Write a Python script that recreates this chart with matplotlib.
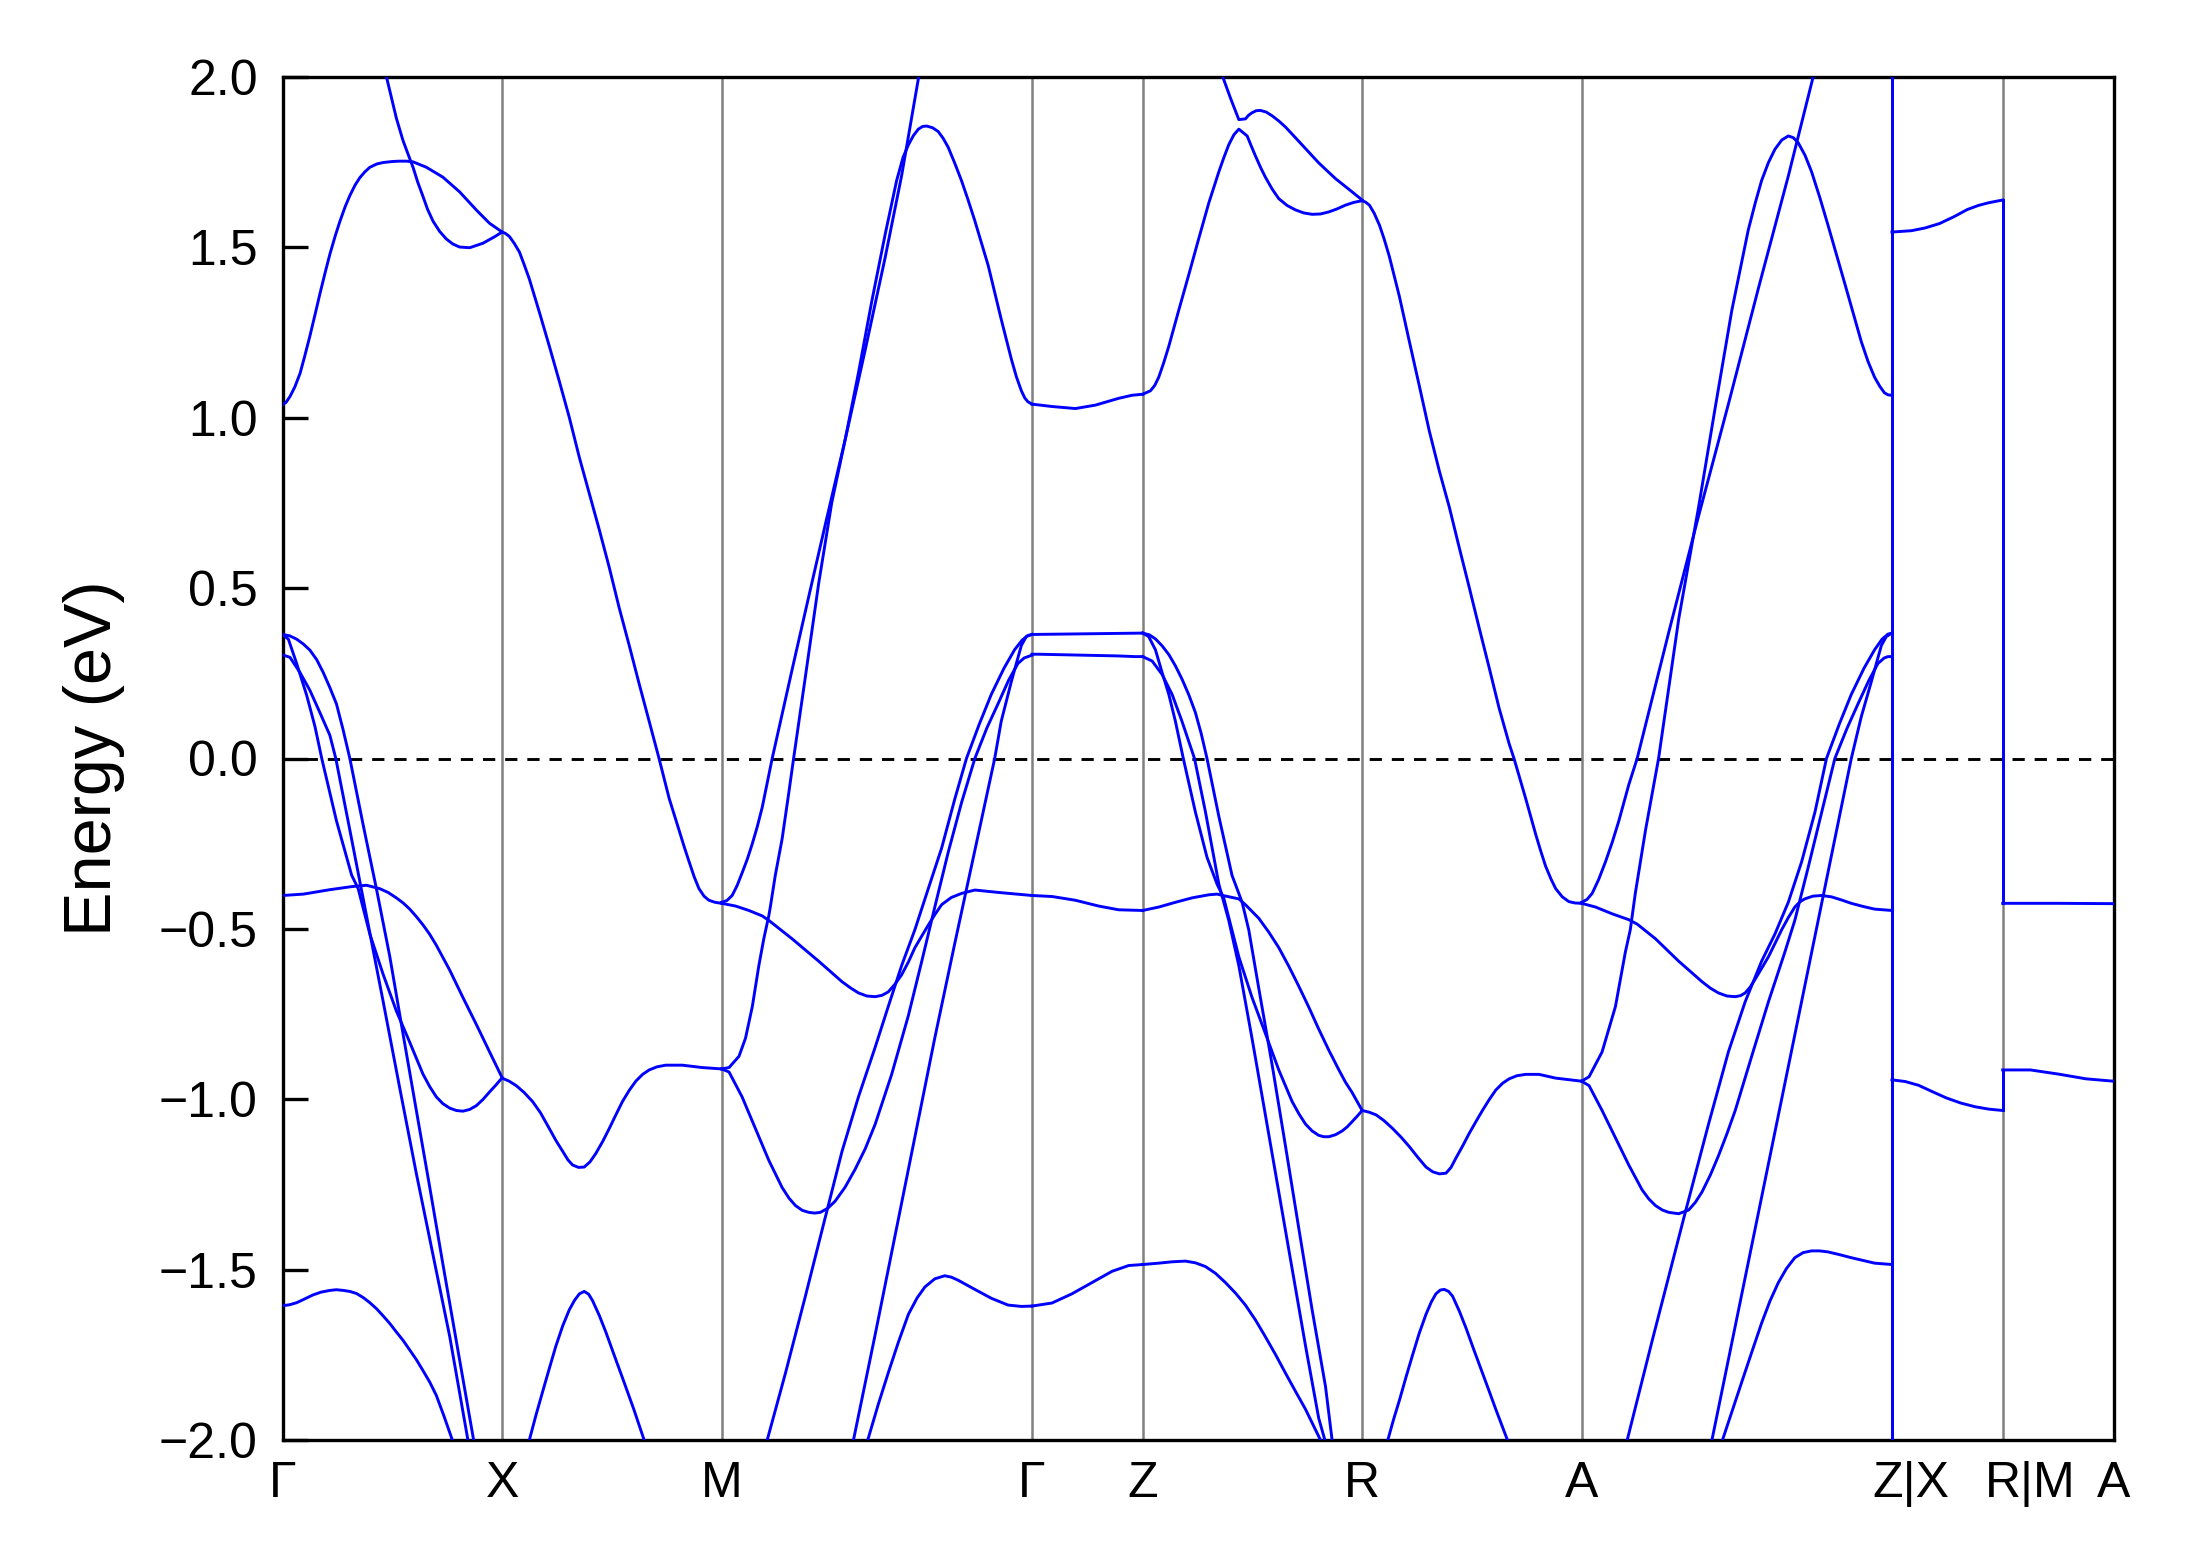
import matplotlib
matplotlib.use("Agg")
import matplotlib.pyplot as plt
import matplotlib.transforms as mtrans
import numpy as np

plt.rcParams['font.family'] = ['Liberation Sans', 'DejaVu Sans']

# ---------------- path / labels ----------------
tick_labels = ["Γ", "X", "M", "Γ", "Z", "R", "A", "Z|X", "R|M", "A"]
# segment lengths (units of 2π/a): Γ-X, X-M, M-Γ, Γ-Z, Z-R, R-A, A-Z, X-R, M-A
seg_lengths = [0.5, 0.5, 0.7071, 0.2524, 0.5, 0.5, 0.7071, 0.2524, 0.2524]

# ---------------- band data: (fraction along segment, energy eV) ----------------
# segment 0 : Γ-X
gx_c1 = [(0.000,1.039),(0.015,1.045),(0.033,1.062),(0.055,1.090),(0.079,1.130),(0.100,1.180),(0.124,1.240),
         (0.150,1.310),(0.170,1.365),(0.195,1.430),(0.215,1.480),(0.240,1.535),(0.261,1.577),(0.285,1.620),
         (0.306,1.652),(0.330,1.683),(0.352,1.705),(0.375,1.722),(0.397,1.735),(0.430,1.745),(0.458,1.749),
         (0.500,1.752),(0.530,1.753),(0.564,1.753),(0.594,1.751),
         (0.655,1.735),(0.730,1.706),(0.806,1.663),(0.882,1.610),(0.942,1.571),(1.000,1.545)]
gx_c2 = [(0.473,2.000),(0.518,1.879),(0.548,1.814),(0.571,1.774),(0.594,1.735),(0.615,1.692),(0.639,1.650),
         (0.660,1.612),(0.685,1.577),(0.715,1.547),(0.745,1.525),(0.775,1.510),(0.806,1.501),(0.852,1.499),
         (0.912,1.512),(0.965,1.531),(1.000,1.545)]
gx_v1 = [(0.000,0.364),(0.026,0.350),(0.064,0.278),(0.109,0.186),(0.147,0.094),(0.178,0.000),(0.245,-0.183),
         (0.314,-0.342),(0.344,-0.382),(0.397,-0.515),(0.458,-0.634),(0.518,-0.741),(0.579,-0.833),(0.639,-0.926),
         (0.670,-0.963),(0.700,-0.993),(0.730,-1.013),(0.761,-1.026),(0.791,-1.033),(0.821,-1.035),(0.852,-1.030),
         (0.882,-1.019),(0.912,-1.001),(0.942,-0.979),(0.972,-0.958),(1.000,-0.937)]
gx_v2 = [(0.000,0.304),(0.033,0.297),(0.079,0.252),(0.124,0.200),(0.170,0.134),(0.215,0.068),(0.242,0.000),
         (0.306,-0.210),(0.382,-0.462),(0.458,-0.714),(0.533,-0.966),(0.609,-1.218),(0.685,-1.457),(0.761,-1.696),
         (0.844,-2.000)]
gx_v3 = [(0.000,0.364),(0.032,0.360),(0.064,0.350),(0.094,0.336),(0.124,0.318),(0.155,0.290),(0.185,0.252),
         (0.215,0.208),(0.245,0.160),(0.275,0.085),(0.306,0.000),(0.367,-0.196),
         (0.427,-0.382),(0.488,-0.581),(0.548,-0.807),(0.609,-1.033),(0.670,-1.258),(0.730,-1.484),(0.791,-1.709),
         (0.870,-2.000)]
gx_v4 = [(0.000,-0.402),(0.094,-0.398),(0.215,-0.385),(0.314,-0.376),(0.382,-0.372),(0.442,-0.382),(0.480,-0.393),
         (0.518,-0.409),(0.549,-0.424),(0.579,-0.442),(0.609,-0.464),(0.639,-0.488),(0.670,-0.516),(0.700,-0.548),
         (0.761,-0.621),(0.821,-0.701),(0.882,-0.780),(0.942,-0.860),(1.000,-0.937)]
gx_v5 = [(0.000,-1.606),(0.032,-1.603),(0.064,-1.597),(0.100,-1.586),(0.139,-1.574),(0.175,-1.566),(0.215,-1.561),
         (0.245,-1.559),(0.276,-1.561),(0.306,-1.564),(0.336,-1.570),(0.367,-1.582),(0.397,-1.597),(0.428,-1.615),
         (0.458,-1.636),(0.488,-1.658),(0.518,-1.683),(0.549,-1.708),(0.579,-1.736),(0.609,-1.764),(0.639,-1.796),
         (0.670,-1.830),(0.700,-1.869),(0.735,-1.930),(0.773,-2.000)]

# segment 1 : X-M
xm_c1 = [(0.000,1.545),(0.015,1.541),(0.033,1.532),(0.055,1.512),(0.079,1.486),(0.100,1.450),(0.124,1.407),
         (0.170,1.309),(0.215,1.210),(0.261,1.106),
         (0.306,1.001),(0.352,0.883),(0.397,0.778),(0.442,0.673),(0.488,0.561),(0.533,0.443),(0.579,0.332),
         (0.624,0.220),(0.670,0.109),(0.715,0.000),(0.761,-0.117),(0.806,-0.210),(0.830,-0.260),(0.852,-0.303),
         (0.875,-0.347),(0.897,-0.382),(0.920,-0.404),(0.942,-0.416),(0.970,-0.422),(1.000,-0.425)]
xm_v1 = [(0.000,-0.938),(0.032,-0.947),(0.064,-0.960),(0.100,-0.980),(0.139,-1.007),(0.175,-1.040),(0.215,-1.086),
         (0.245,-1.121),(0.276,-1.153),(0.300,-1.178),(0.321,-1.193),(0.348,-1.200),(0.374,-1.199),(0.400,-1.184),
         (0.427,-1.159),(0.458,-1.124),(0.488,-1.086),(0.518,-1.046),(0.548,-1.007),(0.579,-0.974),(0.609,-0.947),
         (0.640,-0.927),(0.670,-0.914),(0.705,-0.905),(0.745,-0.900),(0.821,-0.900),
         (0.912,-0.907),(1.000,-0.911)]
xm_v2 = [(0.124,-2.000),(0.155,-1.925),(0.185,-1.857),(0.215,-1.790),(0.245,-1.724),(0.276,-1.665),(0.306,-1.618),
         (0.330,-1.590),(0.352,-1.571),(0.374,-1.564),(0.394,-1.572),(0.412,-1.591),(0.443,-1.635),
         (0.473,-1.684),(0.510,-1.750),(0.548,-1.817),(0.600,-1.910),(0.647,-2.000)]

# segment 2 : M-Γ
mg_c1 = [(0.000,-0.422),(0.017,-0.417),(0.034,-0.402),(0.050,-0.373),(0.066,-0.336),(0.083,-0.295),(0.099,-0.250),
         (0.115,-0.200),(0.131,-0.143),(0.163,0.000),(0.227,0.260),
         (0.281,0.476),(0.334,0.686),(0.398,0.935),(0.463,1.200),(0.527,1.470),(0.580,1.710),(0.635,2.000)]
mg_c2 = [(0.000,-0.911),(0.024,-0.907),(0.056,-0.874),(0.077,-0.821),(0.099,-0.728),(0.120,-0.608),(0.136,-0.529),
         (0.152,-0.462),(0.157,-0.436),(0.173,-0.343),(0.195,-0.236),(0.216,-0.104),(0.232,0.000),(0.270,0.240),
         (0.313,0.515),(0.355,0.751),(0.398,0.935),(0.441,1.132),(0.484,1.342),(0.527,1.538),(0.564,1.696),
         (0.585,1.765),(0.602,1.801),(0.618,1.828),(0.634,1.847),(0.648,1.855),(0.661,1.856),(0.680,1.851),
         (0.698,1.840),(0.714,1.820),(0.730,1.794),(0.750,1.750),(0.773,1.696),(0.794,1.640),(0.816,1.578),
         (0.859,1.447),(0.901,1.289),(0.918,1.228),(0.934,1.171),(0.950,1.120),(0.966,1.079),(0.977,1.058),
         (0.987,1.047),(1.000,1.040)]
mg_v1 = [(0.000,-0.425),(0.045,-0.433),(0.088,-0.446),(0.131,-0.462),(0.152,-0.475),(0.227,-0.529),(0.313,-0.595),
         (0.388,-0.655),(0.415,-0.673),(0.441,-0.688),(0.468,-0.697),(0.495,-0.699),(0.517,-0.695),(0.537,-0.685),
         (0.558,-0.663),(0.580,-0.635),(0.602,-0.597),(0.623,-0.555),(0.645,-0.521),(0.666,-0.489),(0.688,-0.457),
         (0.709,-0.429),(0.740,-0.408),(0.773,-0.396),(0.816,-0.386),(0.891,-0.393),(1.000,-0.402)]
mg_v2 = [(0.000,-0.911),(0.024,-0.920),(0.066,-0.993),(0.109,-1.086),(0.152,-1.179),(0.195,-1.259),(0.217,-1.290),
         (0.238,-1.312),(0.260,-1.326),(0.281,-1.332),(0.300,-1.334),(0.318,-1.332),(0.342,-1.320),(0.366,-1.299),
         (0.398,-1.258),(0.430,-1.206),(0.463,-1.145),(0.495,-1.073),(0.548,-0.927),(0.602,-0.754),
         (0.645,-0.595),(0.687,-0.436),(0.730,-0.276),(0.773,-0.130),(0.816,0.000),(0.855,0.090),(0.891,0.161),
         (0.925,0.230),(0.955,0.279),(0.975,0.295),(0.987,0.299),(1.000,0.303)]
mg_v3 = [(0.147,-2.000),(0.206,-1.803),(0.270,-1.578),(0.329,-1.365),(0.388,-1.153),(0.441,-0.993),(0.495,-0.847),
         (0.537,-0.728),(0.580,-0.608),(0.623,-0.502),(0.666,-0.382),(0.709,-0.263),(0.752,-0.117),(0.789,0.000),
         (0.830,0.100),(0.869,0.188),(0.910,0.265),(0.944,0.319),(0.968,0.347),(0.987,0.361),(1.000,0.364)]
mg_v4 = [(0.425,-2.000),(0.495,-1.690),(0.559,-1.400),(0.623,-1.110),(0.687,-0.820),(0.752,-0.540),(0.816,-0.270),
         (0.880,0.000),(0.901,0.109),(0.934,0.227),(0.966,0.332),(0.982,0.358),(1.000,0.364)]
mg_v5 = [(0.471,-2.000),(0.505,-1.895),(0.537,-1.803),(0.570,-1.712),(0.602,-1.631),(0.630,-1.583),(0.655,-1.551),
         (0.687,-1.527),(0.719,-1.518),(0.740,-1.522),(0.762,-1.531),(0.790,-1.545),(0.816,-1.558),
         (0.869,-1.584),(0.923,-1.604),(0.966,-1.608),(1.000,-1.607)]

# segment 3 : Γ-Z
gz_c1 = [(0.000,1.040),(0.181,1.033),(0.392,1.027),(0.572,1.037),(0.783,1.057),(0.904,1.066),(1.000,1.069)]
gz_v1 = [(0.000,0.364),(0.500,0.366),(1.000,0.368)]
gz_v2 = [(0.000,0.306),(0.060,0.306),(0.780,0.301),(0.930,0.299),(1.000,0.299)]
gz_v3 = [(0.000,-0.402),(0.181,-0.405),(0.392,-0.416),(0.602,-0.433),(0.783,-0.444),(1.000,-0.446)]
gz_v4 = [(0.000,-1.607),(0.181,-1.598),(0.361,-1.571),(0.542,-1.538),(0.723,-1.505),(0.873,-1.488),(1.000,-1.485)]

# segment 4 : Z-R
zr_c1 = [(0.000,1.069),(0.035,1.079),(0.055,1.095),(0.073,1.119),(0.095,1.160),(0.119,1.210),(0.164,1.315),
         (0.210,1.420),(0.255,1.525),(0.301,1.630),(0.347,1.722),(0.370,1.764),(0.392,1.801),(0.415,1.830),
         (0.438,1.847),(0.476,1.827),(0.495,1.797),(0.514,1.768),(0.536,1.736),(0.559,1.706),(0.590,1.671),
         (0.620,1.643),(0.658,1.623),(0.696,1.610),(0.734,1.601),(0.772,1.597),(0.810,1.598),(0.848,1.604),
         (0.886,1.613),(0.924,1.624),(0.962,1.632),(1.000,1.637)]
zr_c2 = [(0.365,2.000),(0.400,1.938),(0.438,1.875),(0.468,1.877),(0.483,1.888),(0.498,1.895),(0.517,1.901),
         (0.536,1.902),(0.563,1.897),(0.590,1.886),(0.620,1.871),(0.651,1.853),(0.726,1.801),(0.802,1.748),
         (0.878,1.702),(0.954,1.663),(1.000,1.639)]
zr_v1 = [(0.000,0.368),(0.027,0.358),(0.058,0.319),(0.088,0.253),(0.119,0.188),(0.149,0.109),(0.185,0.000),
         (0.240,-0.157),(0.293,-0.290),(0.339,-0.369),(0.369,-0.409),(0.438,-0.582),(0.498,-0.701),(0.559,-0.807),
         (0.620,-0.914),(0.681,-1.007),(0.712,-1.043),(0.742,-1.073),(0.772,-1.093),(0.802,-1.106),(0.825,-1.110),
         (0.848,-1.110),(0.879,-1.104),(0.909,-1.093),(0.932,-1.081),(0.954,-1.066),(0.977,-1.050),(1.000,-1.033)]
zr_v2 = [(0.000,0.299),(0.043,0.286),(0.088,0.247),(0.134,0.188),(0.179,0.109),(0.236,0.000),(0.286,-0.157),
         (0.347,-0.369),(0.392,-0.475),(0.438,-0.608),(0.498,-0.821),(0.559,-1.046),(0.620,-1.272),(0.681,-1.498),
         (0.742,-1.724),(0.802,-1.936),(0.830,-2.000)]
zr_v3 = [(0.000,0.368),(0.030,0.363),(0.058,0.351),(0.088,0.331),(0.119,0.305),(0.149,0.272),(0.179,0.233),
         (0.210,0.187),(0.240,0.135),(0.267,0.072),(0.293,0.000),(0.347,-0.170),
         (0.407,-0.343),(0.453,-0.422),(0.483,-0.502),(0.529,-0.675),(0.590,-0.900),(0.651,-1.139),(0.711,-1.378),
         (0.772,-1.618),(0.833,-1.843),(0.863,-2.000)]
zr_v4 = [(0.000,-0.446),(0.073,-0.436),(0.149,-0.422),(0.225,-0.409),(0.301,-0.400),(0.339,-0.398),(0.365,-0.402),
         (0.438,-0.412),(0.468,-0.429),(0.529,-0.469),(0.575,-0.510),(0.620,-0.555),(0.666,-0.610),(0.711,-0.668),
         (0.757,-0.730),(0.802,-0.794),(0.848,-0.856),(0.894,-0.914),(0.924,-0.950),(0.954,-0.980),(1.000,-1.033)]
zr_v5 = [(0.000,-1.485),(0.073,-1.481),(0.135,-1.477),(0.195,-1.475),(0.240,-1.480),(0.286,-1.491),(0.332,-1.511),
         (0.377,-1.538),(0.423,-1.569),(0.468,-1.604),(0.514,-1.648),(0.559,-1.697),(0.605,-1.749),
         (0.650,-1.803),(0.696,-1.857),(0.742,-1.910),(0.810,-2.000)]

# segment 5 : R-A
ra_c1 = [(0.000,1.637),(0.015,1.633),(0.033,1.624),(0.055,1.600),(0.079,1.565),(0.100,1.525),(0.124,1.473),
         (0.170,1.355),(0.215,1.224),(0.261,1.092),
         (0.306,0.961),(0.352,0.843),(0.397,0.738),(0.442,0.620),(0.488,0.502),(0.533,0.384),(0.579,0.266),
         (0.624,0.148),(0.670,0.043),(0.692,0.000),(0.745,-0.117),(0.791,-0.223),(0.814,-0.272),(0.836,-0.316),
         (0.860,-0.353),(0.882,-0.382),(0.912,-0.406),(0.942,-0.420),(0.970,-0.424),(1.000,-0.425)]
ra_v1 = [(0.000,-1.033),(0.032,-1.038),(0.064,-1.046),(0.100,-1.063),(0.139,-1.086),(0.177,-1.111),(0.215,-1.139),
         (0.253,-1.170),(0.291,-1.199),(0.322,-1.213),(0.352,-1.219),(0.382,-1.217),(0.405,-1.200),
         (0.427,-1.173),(0.458,-1.137),(0.488,-1.100),(0.518,-1.066),(0.548,-1.033),(0.579,-1.001),(0.609,-0.973),
         (0.640,-0.953),(0.670,-0.940),(0.705,-0.931),(0.745,-0.927),(0.806,-0.927),
         (0.882,-0.938),(1.000,-0.947)]
ra_v2 = [(0.117,-2.000),(0.143,-1.940),(0.170,-1.883),(0.200,-1.815),(0.230,-1.750),(0.260,-1.687),(0.291,-1.631),
         (0.315,-1.595),(0.336,-1.571),(0.356,-1.560),(0.374,-1.558),(0.394,-1.564),(0.412,-1.578),(0.443,-1.622),
         (0.473,-1.671),(0.510,-1.737),(0.548,-1.803),(0.579,-1.857),(0.609,-1.910),(0.662,-2.000)]

# segment 6 : A-Z
az_c1 = [(0.000,-0.422),(0.017,-0.414),(0.034,-0.396),(0.055,-0.355),(0.077,-0.303),(0.099,-0.245),(0.120,-0.183),
         (0.152,-0.077),(0.179,0.000),(0.281,0.371),
         (0.377,0.712),(0.473,1.040),(0.570,1.381),(0.666,1.709),(0.746,2.000)]
az_c2 = [(0.000,-0.947),(0.024,-0.934),(0.066,-0.861),(0.109,-0.728),(0.141,-0.568),(0.157,-0.502),(0.173,-0.396),
         (0.206,-0.210),(0.248,0.000),(0.313,0.410),(0.377,0.738),(0.430,1.027),(0.484,1.315),(0.537,1.551),
         (0.560,1.632),(0.580,1.696),(0.602,1.749),(0.623,1.788),(0.645,1.815),(0.666,1.827),(0.682,1.822),
         (0.698,1.807),(0.720,1.770),(0.741,1.722),(0.768,1.645),(0.794,1.565),(0.848,1.394),
         (0.901,1.224),(0.923,1.165),(0.944,1.119),(0.961,1.092),(0.976,1.073),(0.988,1.067),(1.000,1.066)]
az_v1 = [(0.000,-0.425),(0.045,-0.436),(0.099,-0.456),(0.152,-0.473),(0.179,-0.486),(0.238,-0.529),(0.313,-0.595),
         (0.388,-0.655),(0.415,-0.674),(0.441,-0.688),(0.468,-0.697),(0.495,-0.699),(0.512,-0.696),(0.527,-0.688),
         (0.543,-0.671),(0.559,-0.648),(0.580,-0.616),(0.602,-0.582),(0.623,-0.543),(0.645,-0.502),(0.666,-0.467),
         (0.687,-0.436),(0.703,-0.421),(0.719,-0.412),(0.745,-0.404),(0.773,-0.402),(0.805,-0.406),(0.837,-0.415),
         (0.869,-0.425),(0.906,-0.434),(0.944,-0.442),(1.000,-0.446)]
az_v2 = [(0.000,-0.947),(0.024,-0.960),(0.066,-1.033),(0.109,-1.113),(0.152,-1.193),(0.195,-1.266),(0.217,-1.293),
         (0.238,-1.312),(0.260,-1.325),(0.281,-1.332),(0.313,-1.336),(0.345,-1.325),(0.367,-1.302),(0.388,-1.272),
         (0.415,-1.222),(0.441,-1.166),(0.468,-1.102),(0.495,-1.033),(0.548,-0.874),
         (0.602,-0.714),(0.655,-0.568),(0.687,-0.475),(0.730,-0.320),(0.773,-0.160),(0.816,0.000),(0.855,0.088),
         (0.891,0.161),(0.925,0.228),(0.955,0.279),(0.975,0.295),(0.987,0.299),(1.000,0.299)]
az_v3 = [(0.147,-2.000),(0.227,-1.710),(0.302,-1.445),(0.334,-1.332),(0.409,-1.073),(0.473,-0.861),(0.527,-0.714),
         (0.580,-0.595),(0.623,-0.515),(0.666,-0.422),(0.709,-0.303),(0.752,-0.157),(0.789,0.000),(0.830,0.100),
         (0.869,0.188),(0.910,0.265),(0.944,0.319),(0.968,0.350),(0.987,0.365),(1.000,0.368)]
az_v4 = [(0.420,-2.000),(0.495,-1.666),(0.559,-1.381),(0.623,-1.096),(0.687,-0.811),(0.752,-0.521),(0.805,-0.285),
         (0.869,0.000),(0.901,0.122),(0.934,0.227),(0.966,0.332),(0.982,0.358),(1.000,0.368)]
az_v5 = [(0.454,-2.000),(0.485,-1.915),(0.516,-1.830),(0.548,-1.743),(0.580,-1.657),(0.607,-1.592),(0.634,-1.538),
         (0.660,-1.497),(0.687,-1.465),(0.714,-1.450),(0.741,-1.445),(0.767,-1.445),(0.794,-1.448),(0.831,-1.456),
         (0.869,-1.465),(0.944,-1.481),(1.000,-1.485)]

# segment 7 : X-R     segment 8 : M-A
xr_c1 = [(0.000,1.545),(0.177,1.549),(0.300,1.557),(0.430,1.570),(0.560,1.590),(0.680,1.611),(0.780,1.623),
         (0.873,1.631),(1.000,1.639)]
xr_v1 = [(0.000,-0.943),(0.120,-0.948),(0.240,-0.959),(0.360,-0.977),(0.490,-0.996),(0.620,-1.011),(0.750,-1.022),
         (0.875,-1.029),(1.000,-1.033)]
ma_v1 = [(0.000,-0.425),(0.500,-0.425),(1.000,-0.426)]
ma_v2 = [(0.000,-0.914),(0.250,-0.914),(0.500,-0.926),(0.750,-0.940),(1.000,-0.947)]

# band connections across the path discontinuities (energy before -> after)
zx_from = [-1.485, -0.446, 0.299, 0.368, 0.368, 1.066]
zx_to = [-2.5, -2.5, -2.5, -0.943, 1.545, 2.5]
rm_from = [1.639, -1.033]
rm_to = [-0.425, -0.914]

# ---------------- plotting ----------------
seg_start = np.concatenate([[0.0], np.cumsum(seg_lengths)])

band_pieces = [
    (0, gx_c1), (0, gx_c2), (0, gx_v1), (0, gx_v2), (0, gx_v3), (0, gx_v4), (0, gx_v5),
    (1, xm_c1), (1, xm_v1), (1, xm_v2),
    (2, mg_c1), (2, mg_c2), (2, mg_v1), (2, mg_v2), (2, mg_v3), (2, mg_v4), (2, mg_v5),
    (3, gz_c1), (3, gz_v1), (3, gz_v2), (3, gz_v3), (3, gz_v4),
    (4, zr_c1), (4, zr_c2), (4, zr_v1), (4, zr_v2), (4, zr_v3), (4, zr_v4), (4, zr_v5),
    (5, ra_c1), (5, ra_v1), (5, ra_v2),
    (6, az_c1), (6, az_c2), (6, az_v1), (6, az_v2), (6, az_v3), (6, az_v4), (6, az_v5),
    (7, xr_c1), (7, xr_v1),
    (8, ma_v1), (8, ma_v2),
]

W, H, DPI = 2189, 1567, 300
fig = plt.figure(figsize=(W / DPI, H / DPI), dpi=DPI)
ax = fig.add_axes([282.7 / W, 1 - 1440 / H, (2113.5 - 282.7) / W, (1440 - 77) / H])

band_kw = dict(color='#0000ff', lw=0.7, zorder=3, solid_joinstyle='round')
for seg, pts in band_pieces:
    arr = np.array(pts)
    k = seg_start[seg] + arr[:, 0] * seg_lengths[seg]
    ax.plot(k, arr[:, 1], **band_kw)

for e0, e1 in zip(zx_from, zx_to):
    ax.plot([seg_start[7], seg_start[7]], [e0, e1], **band_kw)
for e0, e1 in zip(rm_from, rm_to):
    ax.plot([seg_start[8], seg_start[8]], [e0, e1], **band_kw)

for xk in seg_start[1:-1]:
    ax.axvline(xk, color='#808080', lw=0.6, zorder=1)

ax.axhline(0.0, color='black', lw=0.7, ls=(0, (4.2, 3.4)), zorder=2)

ax.set_xlim(seg_start[0], seg_start[-1])
ax.set_ylim(-2.0, 2.0)
ax.set_xticks(seg_start)
ax.set_xticklabels(tick_labels)
ax.set_yticks(np.arange(-2.0, 2.01, 0.5))
ax.set_ylabel("Energy (eV)", fontsize=16, labelpad=8)

ax.tick_params(axis='y', direction='in', length=6, width=0.8, labelsize=12, pad=6,
               right=False)
ax.tick_params(axis='x', direction='in', length=0, labelsize=12, pad=5, top=False)
for sp in ax.spines.values():
    sp.set_linewidth(0.8)

# the combined labels at the path breaks sit slightly right of their tick
label_shift_pt = {7: 4.5, 8: 6.5}
for i, lab in enumerate(ax.get_xticklabels()):
    if i in label_shift_pt:
        off = mtrans.ScaledTranslation(label_shift_pt[i] / 72.0, 0, fig.dpi_scale_trans)
        lab.set_transform(lab.get_transform() + off)

fig.savefig("out.png", dpi=DPI)
